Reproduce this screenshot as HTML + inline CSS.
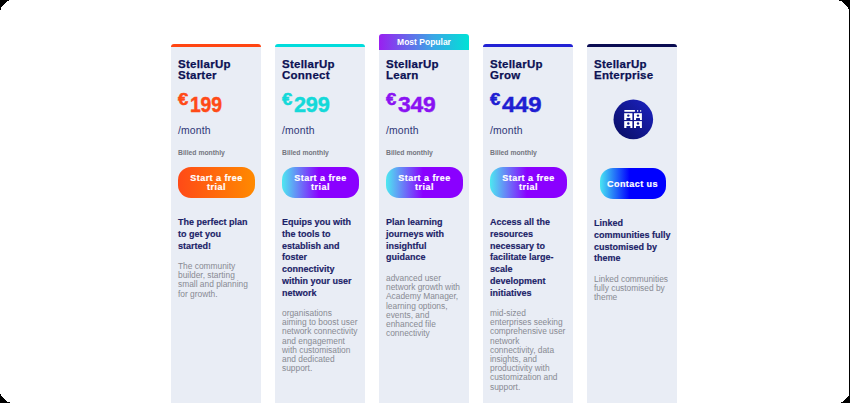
<!DOCTYPE html>
<html><head><meta charset="utf-8">
<style>
*{margin:0;padding:0;box-sizing:border-box}
html,body{width:850px;height:403px;overflow:hidden;background:#fff}
body{font-family:"Liberation Sans",sans-serif;position:relative}
.card{position:absolute;top:47px;width:90px;height:356px;background:#e9edf5}
.bar{position:absolute;top:44px;width:90px;height:3px;border-radius:3px 3px 0 0}
.tab{position:absolute;z-index:2;left:379px;top:34px;width:90px;height:16px;border-radius:3px 3px 0 0;background:linear-gradient(90deg,#9a1ff0,#3aa6e6 60%,#00e2d6);color:#fff;font-weight:bold;font-size:8.5px;text-align:center;line-height:16px}
.t{position:absolute;left:7px;white-space:nowrap}
.title{top:12px;font-weight:bold;font-size:11.5px;line-height:11.3px;letter-spacing:0.25px;color:#0c1254;-webkit-text-stroke:0.25px currentColor}
.price{top:46px;font-weight:bold;color:#ff4a17}
.price .eur{font-size:16px;vertical-align:top;position:relative;top:-2px;margin-right:1px;display:inline-block;transform:scaleX(1.15);transform-origin:left;-webkit-text-stroke:0.5px currentColor}
.price .num{font-size:22px;margin-left:2.5px;display:inline-block;position:relative;top:-1px;transform-origin:left;-webkit-text-stroke:0.45px currentColor;letter-spacing:-0.2px}
.month{top:78px;font-size:10.4px;letter-spacing:0.15px;color:#2f3677}
.billed{top:102px;font-size:6.8px;font-weight:bold;color:#74767f}
.btn{position:absolute;left:7px;top:120px;width:77px;height:31px;border-radius:13px;color:#fff;font-weight:bold;font-size:9px;line-height:8.5px;letter-spacing:0.45px;-webkit-text-stroke:0.2px #fff;text-align:center;display:flex;align-items:center;justify-content:center}
.b1{background:linear-gradient(90deg,#ff4a17,#ff8a00)}
.b2{background:linear-gradient(90deg,#4de9f0 0%,#8a00ff 48%,#8a00ff 100%)}
.desc{top:170px;font-weight:bold;font-size:9px;line-height:11.8px;color:#1b2268;-webkit-text-stroke:0.15px currentColor}
.gray{font-size:8.4px;line-height:9.2px;color:#888a93}
</style></head><body>
<svg style="position:absolute;left:0;top:0;z-index:5" width="850" height="403" viewBox="0 0 850 403" shape-rendering="crispEdges"><path fill="#000" d="M0 0h9v1h-9zM0 1h7v1h-7zM0 2h6v1h-6zM0 3h5v1h-5zM0 4h4v1h-4zM0 5h3v1h-3zM0 6h2v1h-2zM0 7h1v1h-1zM0 8h1v1h-1zM0 9h1v1h-1zM839 0h11v1h-11zM842 1h8v1h-8zM843 2h7v1h-7zM844 3h6v1h-6zM845 4h5v1h-5zM846 5h4v1h-4zM847 6h3v1h-3zM848 7h2v1h-2zM848 8h2v1h-2zM849 9h1v387h-1zM848 396h2v1h-2zM847 397h3v1h-3zM846 398h4v1h-4zM845 399h5v1h-5zM844 400h6v1h-6zM843 401h7v1h-7zM841 402h9v1h-9zM0 394h1v1h-1zM0 395h1v1h-1zM0 396h2v1h-2zM0 397h3v1h-3zM0 398h4v1h-4zM0 399h5v1h-5zM0 400h6v1h-6zM0 401h7v1h-7zM0 402h10v1h-10z"/></svg>

<div class="bar" style="left:171px;background:#ff4512"></div>
<div class="bar" style="left:275px;background:#00dcdc"></div>
<div class="tab">Most Popular</div>
<div class="bar" style="left:483px;background:#2222d4"></div>
<div class="bar" style="left:587px;background:#0a0c52"></div>

<div class="card" style="left:171px">
  <div class="t title">StellarUp<br>Starter</div>
  <div class="t price"><span class="eur">€</span><span class="num" style="transform:scaleX(0.88)">199</span></div>
  <div class="t month">/month</div>
  <div class="t billed">Billed monthly</div>
  <div class="btn b1">Start a free<br>trial</div>
  <div class="t desc">The perfect plan<br>to get you<br>started!</div>
  <div class="t gray" style="top:215px">The community<br>builder, starting<br>small and planning<br>for growth.</div>
</div>

<div class="card" style="left:275px">
  <div class="t title">StellarUp<br>Connect</div>
  <div class="t price" style="color:#14d9d9"><span class="eur">€</span><span class="num" style="transform:scaleX(0.985)">299</span></div>
  <div class="t month">/month</div>
  <div class="t billed">Billed monthly</div>
  <div class="btn b2">Start a free<br>trial</div>
  <div class="t desc">Equips you with<br>the tools to<br>establish and<br>foster<br>connectivity<br>within your user<br>network</div>
  <div class="t gray" style="top:262px">organisations<br>aiming to boost user<br>network connectivity<br>and engagement<br>with customisation<br>and dedicated<br>support.</div>
</div>

<div class="card" style="left:379px">
  <div class="t title">StellarUp<br>Learn</div>
  <div class="t price" style="color:#8a12f2"><span class="eur">€</span><span class="num" style="transform:scaleX(1.04)">349</span></div>
  <div class="t month">/month</div>
  <div class="t billed">Billed monthly</div>
  <div class="btn b2">Start a free<br>trial</div>
  <div class="t desc">Plan learning<br>journeys with<br>insightful<br>guidance</div>
  <div class="t gray" style="top:227px">advanced user<br>network growth with<br>Academy Manager,<br>learning options,<br>events, and<br>enhanced file<br>connectivity</div>
</div>

<div class="card" style="left:483px">
  <div class="t title">StellarUp<br>Grow</div>
  <div class="t price" style="color:#1e1ed2"><span class="eur">€</span><span class="num" style="transform:scaleX(1.09)">449</span></div>
  <div class="t month">/month</div>
  <div class="t billed">Billed monthly</div>
  <div class="btn b2">Start a free<br>trial</div>
  <div class="t desc">Access all the<br>resources<br>necessary to<br>facilitate large-<br>scale<br>development<br>initiatives</div>
  <div class="t gray" style="top:262px">mid-sized<br>enterprises seeking<br>comprehensive user<br>network<br>connectivity, data<br>insights, and<br>productivity with<br>customization and<br>support.</div>
</div>

<div class="card" style="left:587px">
  <div class="t title">StellarUp<br>Enterprise</div>
  <div class="btn" style="left:12.5px;top:120.5px;width:66px;padding-top:1.5px;background:linear-gradient(90deg,#48e6f2 0%,#0000ff 45%,#0000ff 100%)">Contact us</div>
  <div class="t desc" style="top:171px">Linked<br>communities fully<br>customised by<br>theme</div>
  <div class="t gray" style="top:228px">Linked communities<br>fully customised by<br>theme</div>
</div>
<svg style="position:absolute;left:610px;top:97px;z-index:3" width="46" height="46" viewBox="610 97 46 46">
<defs><linearGradient id="cg" x1="0" y1="1" x2="1" y2="0"><stop offset="0" stop-color="#080d5e"/><stop offset="1" stop-color="#1c22c4"/></linearGradient></defs>
<circle cx="633.3" cy="119.4" r="19.8" fill="url(#cg)"/>
<g fill="#fff">
<rect x="624.2" y="110.1" width="10.9" height="1.6" rx="0.6"/>
<rect x="637.1" y="110.1" width="1.1" height="1.6"/>
<rect x="640.1" y="110.1" width="1.1" height="1.6"/>
<rect x="624.2" y="113.2" width="8.2" height="6.8"/>
<rect x="634" y="113.2" width="7.9" height="6.8"/>
<rect x="624.2" y="121.1" width="8.2" height="6.9"/>
<rect x="634" y="121.1" width="7.9" height="6.9"/>
</g>
<g fill="#111a8a">
<circle cx="628.3" cy="115.6" r="1.2"/><rect x="626.4" y="117.9" width="4" height="2.1" rx="0.6"/>
<circle cx="638" cy="115.6" r="1.2"/><rect x="636" y="117.9" width="4" height="2.1" rx="0.6"/>
<circle cx="628.3" cy="123.5" r="1.2"/><rect x="626.4" y="125.9" width="4" height="2.1" rx="0.6"/>
<circle cx="638" cy="123.5" r="1.2"/><rect x="636" y="125.9" width="4" height="2.1" rx="0.6"/>
</g>
</svg>
</body></html>
